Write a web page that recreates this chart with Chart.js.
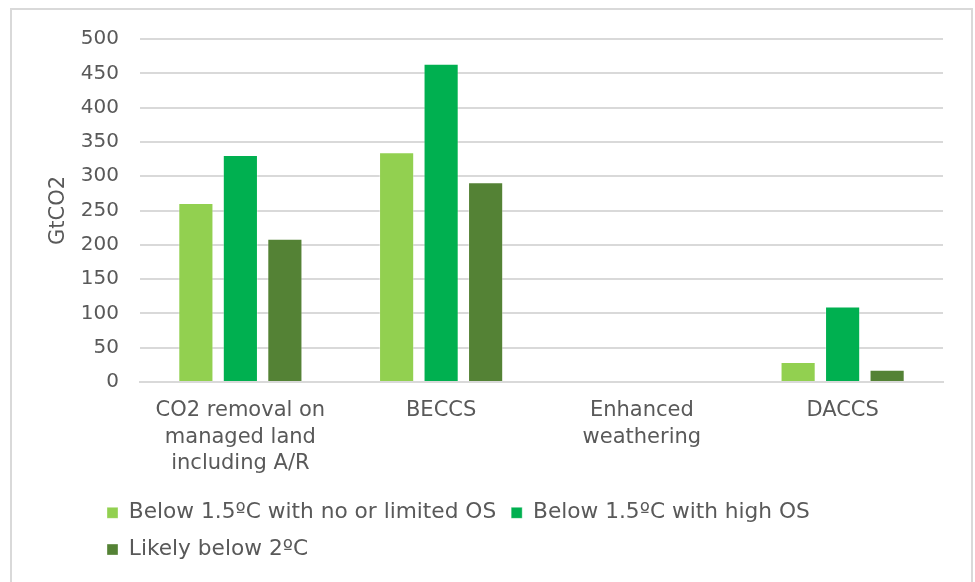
<!DOCTYPE html>
<html>
<head>
<meta charset="utf-8">
<script src="https://cdn.jsdelivr.net/npm/chart.js@4"></script>
<style>
  html, body { margin: 0; padding: 0; background: #fff; overflow: hidden; }
  #frame {
    position: absolute; left: 10px; top: 8px;
    width: 959px; height: 600px;
    border: 2px solid #d9d9d9;
  }
  #chart { display: block; }
</style>
</head>
<body>
<div id="frame"><canvas id="chart" width="959" height="572"></canvas></div>
<script>
const categories = [
  ["CO2 removal on", "managed land", "including A/R"],
  "BECCS",
  ["Enhanced", "weathering"],
  "DACCS"
];
const seriesNames = [
  "Below 1.5ºC with no or limited OS",
  "Below 1.5ºC with high OS",
  "Likely below 2ºC"
];
const noOrLimitedOS = [261, 335, 0, 29];
const highOS = [331, 464, 0, 110];
const likelyBelow2C = [209, 291, 0, 18];
const yTicks = [0, 50, 100, 150, 200, 250, 300, 350, 400, 450, 500];

const colors = ["#92D050", "#00B050", "#548235"];
const textColor = "#595959";
const gridColor = "#d9d9d9";
const fontFamily = "'DejaVu Sans', Verdana, sans-serif";

// legend sits indented under the plot and wraps to two rows
const legendTweak = {
  id: "legendTweak",
  beforeLayout(chart) {
    const lg = chart.legend;
    if (lg && !lg._capped) {
      const up = lg.update;
      lg.update = function (w, h, m) { return up.call(this, Math.min(w, 880), h, m); };
      lg._capped = true;
    }
  },
  afterLayout(chart) {
    if (chart.legend) chart.legend.left = 80;
  }
};

function renderChart() {
  const canvas = document.getElementById("chart");
  if (!canvas || typeof Chart === "undefined") {
    return;
  }

  new Chart(canvas, {
    type: "bar",
    data: {
      labels: categories,
      datasets: [noOrLimitedOS, highOS, likelyBelow2C].map((values, i) => ({
        label: seriesNames[i],
        data: values,
        backgroundColor: colors[i],
        borderColor: "rgba(255,255,255,0.35)",
        borderWidth: 1,
        categoryPercentage: 0.665,
        barPercentage: 0.79
      }))
    },
    options: {
      responsive: false,
      animation: false,
      layout: {
        padding: { left: 0, right: 28, top: 29, bottom: 11.6 }
      },
      plugins: {
        tooltip: { enabled: false },
        legend: {
          position: "bottom",
          align: "start",
          labels: {
            color: textColor,
            font: { family: fontFamily, size: 21.7 },
            boxWidth: 11,
            boxHeight: 11,
            padding: 15
          }
        }
      },
      scales: {
        x: {
          grid: { display: false, drawTicks: false },
          border: { display: true, color: gridColor, width: 2 },
          ticks: {
            color: textColor,
            padding: 16,
            maxRotation: 0,
            autoSkip: false,
            font: { family: fontFamily, size: 21, lineHeight: 1.24 }
          },
          afterFit(scale) { scale.height = 105; }
        },
        y: {
          min: 0,
          max: 500,
          grid: {
            color: gridColor,
            lineWidth: 2,
            drawTicks: true,
            tickLength: 18,
            tickColor: "rgba(0,0,0,0)"
          },
          border: { display: false },
          afterBuildTicks(scale) {
            scale.ticks = yTicks.map(v => ({ value: v }));
          },
          ticks: {
            color: textColor,
            padding: 3,
            font: { family: fontFamily, size: 20 }
          },
          title: {
            display: true,
            text: "GtCO2",
            color: textColor,
            padding: { top: 34, bottom: 0 },
            font: { family: fontFamily, size: 21 }
          },
          afterFit(scale) { scale.width = 128; }
        }
      }
    },
    plugins: [legendTweak]
  });
}

document.addEventListener("DOMContentLoaded", renderChart);
</script>
</body>
</html>
